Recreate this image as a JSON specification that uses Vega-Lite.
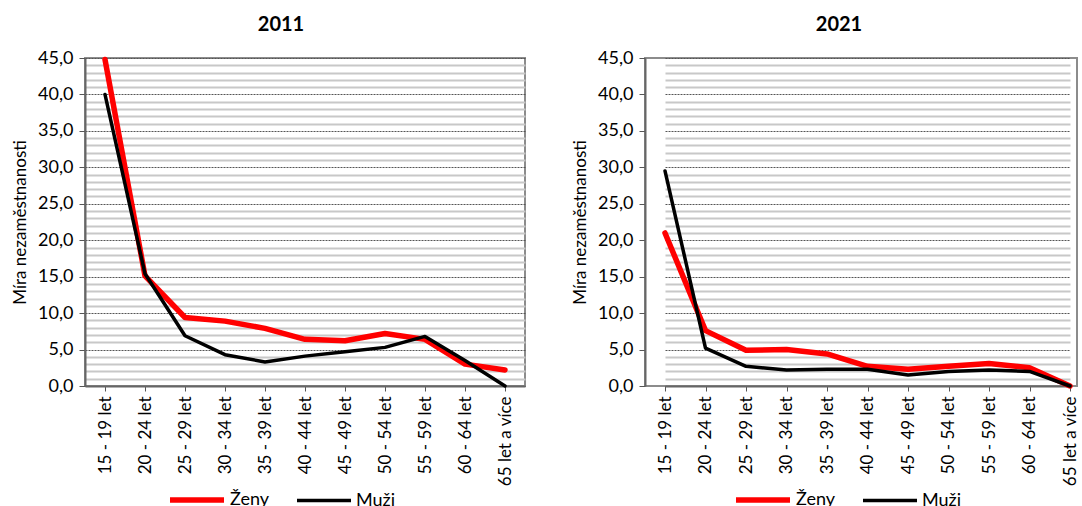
{
  "$schema": "https://vega.github.io/schema/vega-lite/v6.json",
  "padding": {"left": 10, "top": 14, "right": 0, "bottom": 0},
  "background": "white",
  "resolve": {"scale": {"color": "independent", "strokeWidth": "independent"}, "legend": {"color": "independent", "strokeWidth": "independent"}},
  "config": {
    "font": "Lato",
    "view": {"stroke": "#8c8c8c", "strokeWidth": 2},
    "concat": {"spacing": 44},
    "axisX": {
      "title": null,
      "labelAngle": -90,
      "labelFont": "Lato",
      "labelFontSize": 17,
      "labelColor": "#000000",
      "labelPadding": 5,
      "tickSize": 5,
      "tickColor": "#555555",
      "domainColor": "#666666",
      "domainWidth": 2,
      "grid": false
    },
    "axisY": {
      "titleFont": "Lato",
      "titleFontSize": 17,
      "titleFontWeight": "normal",
      "titleColor": "#000000",
      "titlePadding": 8,
      "labelFont": "Lato",
      "labelFontSize": 18,
      "labelColor": "#000000",
      "labelPadding": 6,
      "labelOverlap": false,
      "labelBound": false,
      "domainColor": "#666666",
      "domainWidth": 2,
      "tickColor": "#555555",
      "tickSize": 6
    },
    "legend": {
      "orient": "none",
      "direction": "horizontal",
      "title": null,
      "symbolType": "stroke",
      "symbolSize": 2916,
      "labelFont": "Lato",
      "labelFontSize": 18,
      "labelColor": "#000000",
      "labelOffset": 3,
      "columnPadding": 20,
      "legendY": 412
    },
    "title": {"font": "Lato", "fontSize": 20, "fontWeight": "bold", "color": "#000000", "anchor": "middle", "offset": 14}
  },
  "data": {
    "values": [
      {"year": 2011, "sex": "Ženy", "age": "15 - 19 let", "value": 44.8},
      {"year": 2011, "sex": "Ženy", "age": "20 - 24 let", "value": 15.1},
      {"year": 2011, "sex": "Ženy", "age": "25 - 29 let", "value": 9.4},
      {"year": 2011, "sex": "Ženy", "age": "30 - 34 let", "value": 8.9},
      {"year": 2011, "sex": "Ženy", "age": "35 - 39 let", "value": 7.9},
      {"year": 2011, "sex": "Ženy", "age": "40 - 44 let", "value": 6.4},
      {"year": 2011, "sex": "Ženy", "age": "45 - 49 let", "value": 6.2},
      {"year": 2011, "sex": "Ženy", "age": "50 - 54 let", "value": 7.2},
      {"year": 2011, "sex": "Ženy", "age": "55 - 59 let", "value": 6.4},
      {"year": 2011, "sex": "Ženy", "age": "60 - 64 let", "value": 3.0},
      {"year": 2011, "sex": "Ženy", "age": "65 let a více", "value": 2.2},
      {"year": 2011, "sex": "Muži", "age": "15 - 19 let", "value": 40.0},
      {"year": 2011, "sex": "Muži", "age": "20 - 24 let", "value": 15.4},
      {"year": 2011, "sex": "Muži", "age": "25 - 29 let", "value": 6.9},
      {"year": 2011, "sex": "Muži", "age": "30 - 34 let", "value": 4.3},
      {"year": 2011, "sex": "Muži", "age": "35 - 39 let", "value": 3.3},
      {"year": 2011, "sex": "Muži", "age": "40 - 44 let", "value": 4.1},
      {"year": 2011, "sex": "Muži", "age": "45 - 49 let", "value": 4.7},
      {"year": 2011, "sex": "Muži", "age": "50 - 54 let", "value": 5.3},
      {"year": 2011, "sex": "Muži", "age": "55 - 59 let", "value": 6.8},
      {"year": 2011, "sex": "Muži", "age": "60 - 64 let", "value": 3.5},
      {"year": 2011, "sex": "Muži", "age": "65 let a více", "value": 0.0},
      {"year": 2021, "sex": "Ženy", "age": "15 - 19 let", "value": 21.0},
      {"year": 2021, "sex": "Ženy", "age": "20 - 24 let", "value": 7.6},
      {"year": 2021, "sex": "Ženy", "age": "25 - 29 let", "value": 4.9},
      {"year": 2021, "sex": "Ženy", "age": "30 - 34 let", "value": 5.0},
      {"year": 2021, "sex": "Ženy", "age": "35 - 39 let", "value": 4.4},
      {"year": 2021, "sex": "Ženy", "age": "40 - 44 let", "value": 2.7},
      {"year": 2021, "sex": "Ženy", "age": "45 - 49 let", "value": 2.3},
      {"year": 2021, "sex": "Ženy", "age": "50 - 54 let", "value": 2.7},
      {"year": 2021, "sex": "Ženy", "age": "55 - 59 let", "value": 3.1},
      {"year": 2021, "sex": "Ženy", "age": "60 - 64 let", "value": 2.5},
      {"year": 2021, "sex": "Ženy", "age": "65 let a více", "value": 0.0},
      {"year": 2021, "sex": "Muži", "age": "15 - 19 let", "value": 29.5},
      {"year": 2021, "sex": "Muži", "age": "20 - 24 let", "value": 5.2},
      {"year": 2021, "sex": "Muži", "age": "25 - 29 let", "value": 2.7},
      {"year": 2021, "sex": "Muži", "age": "30 - 34 let", "value": 2.2},
      {"year": 2021, "sex": "Muži", "age": "35 - 39 let", "value": 2.3},
      {"year": 2021, "sex": "Muži", "age": "40 - 44 let", "value": 2.3},
      {"year": 2021, "sex": "Muži", "age": "45 - 49 let", "value": 1.5},
      {"year": 2021, "sex": "Muži", "age": "50 - 54 let", "value": 2.0},
      {"year": 2021, "sex": "Muži", "age": "55 - 59 let", "value": 2.2},
      {"year": 2021, "sex": "Muži", "age": "60 - 64 let", "value": 2.0},
      {"year": 2021, "sex": "Muži", "age": "65 let a více", "value": 0.0}
    ]
  },
  "hconcat": [
    {
      "title": {"text": "2011", "dx": -24},
      "width": 440,
      "height": 328,
      "transform": [{"filter": "datum.year === 2011"}],
      "mark": {"type": "line", "strokeCap": "round", "strokeJoin": "round"},
      "encoding": {
        "x": {"field": "age", "type": "ordinal", "sort": ["15 - 19 let", "20 - 24 let", "25 - 29 let", "30 - 34 let", "35 - 39 let", "40 - 44 let", "45 - 49 let", "50 - 54 let", "55 - 59 let", "60 - 64 let", "65 let a více"], "scale": {"type": "point", "padding": 0.5}},
        "y": {
          "field": "value", "type": "quantitative", "scale": {"domain": [0, 45], "nice": false},
          "axis": {
            "title": "Míra nezaměstnanosti",
            "values": [0,1,2,3,4,5,6,7,8,9,10,11,12,13,14,15,16,17,18,19,20,21,22,23,24,25,26,27,28,29,30,31,32,33,34,35,36,37,38,39,40,41,42,43,44,45],
            "labelExpr": "datum.value % 5 === 0 ? replace(format(datum.value, '.1f'), '.', ',') : ''",
            "tickOpacity": {"condition": {"test": "datum.value % 5 === 0", "value": 1}, "value": 0},
            "grid": true,
            "gridColor": {"condition": {"test": "datum.value % 5 === 0", "value": "#555555"}, "value": "#c8c8c8"},
            "gridDash": {"condition": {"test": "datum.value % 5 === 0", "value": [2, 1]}, "value": []},
            "gridWidth": {"condition": {"test": "datum.value % 5 === 0", "value": 1}, "value": 2}
          }
        },
        "color": {"field": "sex", "type": "nominal", "scale": {"domain": ["Ženy", "Muži"], "range": ["#ff0000", "#000000"]}, "legend": {"legendX": 82}},
        "strokeWidth": {"field": "sex", "type": "nominal", "scale": {"domain": ["Ženy", "Muži"], "range": [5.5, 3.5]}, "legend": {"legendX": 82}}
      }
    },
    {
      "title": {"text": "2021", "dx": -22},
      "width": 432,
      "height": 328,
      "transform": [{"filter": "datum.year === 2021"}],
      "mark": {"type": "line", "strokeCap": "round", "strokeJoin": "round"},
      "encoding": {
        "x": {"field": "age", "type": "ordinal", "sort": ["15 - 19 let", "20 - 24 let", "25 - 29 let", "30 - 34 let", "35 - 39 let", "40 - 44 let", "45 - 49 let", "50 - 54 let", "55 - 59 let", "60 - 64 let", "65 let a více"], "scale": {"type": "point", "range": [20, 425], "padding": 0}},
        "y": {
          "field": "value", "type": "quantitative", "scale": {"domain": [0, 45], "nice": false},
          "axis": {
            "title": "Míra nezaměstnanosti",
            "values": [0,1,2,3,4,5,6,7,8,9,10,11,12,13,14,15,16,17,18,19,20,21,22,23,24,25,26,27,28,29,30,31,32,33,34,35,36,37,38,39,40,41,42,43,44,45],
            "labelExpr": "datum.value % 5 === 0 ? replace(format(datum.value, '.1f'), '.', ',') : ''",
            "tickOpacity": {"condition": {"test": "datum.value % 5 === 0", "value": 1}, "value": 0},
            "grid": true,
            "gridColor": {"condition": {"test": "datum.value % 5 === 0", "value": "#555555"}, "value": "#c8c8c8"},
            "gridDash": {"condition": {"test": "datum.value % 5 === 0", "value": [2, 1]}, "value": []},
            "gridWidth": {"condition": {"test": "datum.value % 5 === 0", "value": 1}, "value": 2}
          }
        },
        "color": {"field": "sex", "type": "nominal", "scale": {"domain": ["Ženy", "Muži"], "range": ["#ff0000", "#000000"]}, "legend": {"legendX": 88}},
        "strokeWidth": {"field": "sex", "type": "nominal", "scale": {"domain": ["Ženy", "Muži"], "range": [5.5, 3.5]}, "legend": {"legendX": 88}}
      }
    }
  ]
}
